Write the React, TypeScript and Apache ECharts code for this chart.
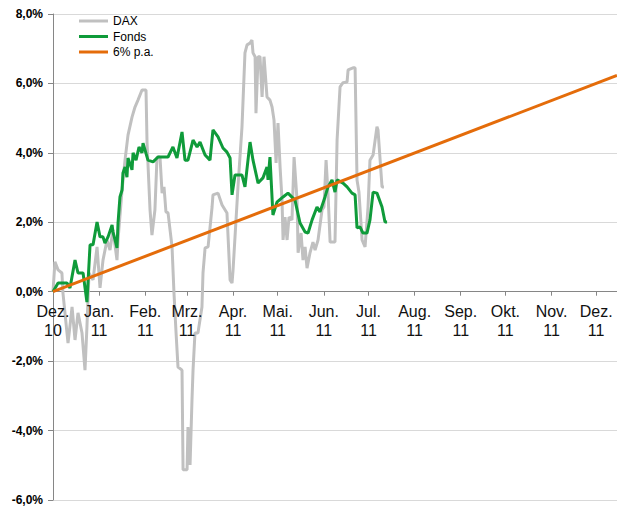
import React, { useEffect, useRef } from "react";
import * as echarts from "echarts";

// x values are days counted from 1 Dec 2010
const monthStarts = [0, 31, 62, 90, 121, 151, 182, 212, 243, 274, 304, 335, 365];
const monthLabels = [
  "Dez.\n10", "Jan.\n11", "Feb.\n11", "Mrz.\n11", "Apr.\n11", "Mai.\n11", "Jun.\n11",
  "Jul.\n11", "Aug.\n11", "Sep.\n11", "Okt.\n11", "Nov.\n11", "Dez.\n11",
];
const seriesNames = ["DAX", "Fonds", "6% p.a."];

const daxDays = [
  0, 1.3, 3.4, 6.0, 6.7, 10.1, 12.8, 14.8, 16.8, 19.5, 21.5, 22.8, 24.2, 26.9, 29.6, 31.6, 33.6,
  36.3, 38.3, 40.3, 43.0, 43.7, 46.4, 48.4, 50.4, 53.1, 55.1, 57.1, 59.8, 62.5, 63.2, 65.2, 66.5,
  68.5, 69.9, 71.9, 73.3, 74.6, 75.9, 77.3, 80.0, 81.3, 82.7, 84.0, 86.7, 87.4, 90.1, 90.7, 92.1,
  93.4, 94.1, 95.4, 97.4, 100.1, 100.8, 102.2, 104.2, 106.9, 107.5, 110.9, 113.6, 116.9, 119.0,
  120.3, 121.0, 124.3, 127.0, 129.0, 130.4, 132.4, 133.7, 134.4, 135.8, 136.4, 137.8, 139.1,
  140.5, 141.8, 143.8, 145.8, 147.2, 148.5, 149.9, 151.2, 152.6, 153.9, 154.6, 155.9, 157.3,
  158.6, 160.6, 162.0, 164.0, 164.7, 166.7, 168.0, 169.4, 170.7, 172.7, 174.7, 176.1, 178.1,
  180.8, 182.1, 183.5, 184.8, 186.2, 189.5, 190.9, 192.9, 194.9, 197.6, 198.3, 201.6, 203.0,
  204.3, 205.6, 207.7, 209.7, 211.7, 213.0, 215.1, 217.7, 218.4, 221.1, 222.4,
];
const daxValues = [
  0, 0.86, 0.63, 0.54, -0.04, -1.48, -0.44, -1.39, -0.61, -1.19, -2.26, -1.02, 0.54, 0.34, 1.29,
  0.11, 0.91, 1.49, 1.2, 1.78, 0.91, 1.49, 2.93, 3.79, 4.51, 5.03, 5.32, 5.52, 5.81, 5.81, 4.28,
  2.36, 1.63, 2.36, 3.88, 3.88, 2.84, 3.02, 2.3, 2.27, 1.29, -0.04, -1.19, -2.17, -2.26, -5.13,
  -5.13, -3.9, -4.99, -3.12, -2.26, -1.19, -1.19, -0.44, 0.54, 1.26, 1.29, 2.44, 2.79, 2.84, 2.5,
  2.27, 0.34, 0.25, 0.63, 3.02, 4.75, 6.88, 7.11, 7.16, 7.25, 6.88, 6.77, 5.14, 6.77, 6.77, 5.61,
  6.77, 5.61, 5.52, 5.32, 4.95, 3.71, 4.86, 3.59, 2.64, 1.49, 2.15, 1.49, 2.15, 2.07, 3.88, 2.64,
  1.12, 1.69, 0.91, 1.29, 0.68, 1.12, 1.43, 1.2, 1.49, 2.36, 2.44, 3.79, 2.84, 1.43, 1.43, 4.37,
  5.9, 6.02, 6.04, 6.39, 6.45, 6.45, 3.22, 2.87, 1.49, 1.29, 2.44, 3.79, 3.94, 4.75, 4.66, 3.02,
  3.02,
];

const fondsDays = [
  0, 3.4, 9.4, 11.4, 14.8, 16.8, 20.2, 22.8, 24.9, 26.9, 29.6, 31.6, 33.6, 34.9, 37.0, 39.7, 40.3,
  41.7, 43.0, 43.7, 45.0, 46.4, 47.0, 48.4, 49.7, 50.4, 53.1, 53.8, 55.8, 57.8, 59.8, 60.5, 63.8,
  67.2, 70.6, 73.9, 77.3, 80.6, 83.3, 86.7, 88.7, 90.7, 94.1, 96.8, 98.8, 102.2, 105.5, 107.5,
  110.9, 114.2, 116.9, 119.0, 120.3, 122.3, 127.0, 129.0, 132.4, 134.4, 137.8, 141.1, 143.8,
  144.5, 145.8, 147.8, 150.5, 154.6, 157.9, 162.6, 166.0, 169.4, 171.4, 174.1, 177.4, 179.4,
  182.8, 184.8, 187.5, 189.5, 190.9, 194.9, 197.6, 200.9, 203.0, 204.3, 206.3, 208.3, 211.0,
  213.0, 215.1, 217.7, 221.1, 223.1, 224.5,
];
const fondsValues = [
  0, 0.25, 0.25, 0.11, 0.91, 0.54, 0.54, -0.3, 1.35, 1.35, 2.01, 1.58, 1.58, 1.4, 1.58, 1.92, 1.72,
  1.49, 1.26, 1.98, 2.73, 2.93, 3.42, 3.59, 3.3, 3.85, 3.51, 4.0, 3.79, 4.17, 4.0, 4.28, 3.79, 3.74,
  3.88, 3.88, 3.88, 4.17, 3.85, 4.6, 3.79, 3.79, 4.37, 4.17, 4.31, 3.94, 3.79, 4.66, 4.46, 4.14,
  4.02, 3.85, 2.79, 3.36, 3.36, 3.02, 4.31, 3.79, 3.13, 3.28, 3.59, 3.22, 3.88, 2.21, 2.58, 2.73,
  2.84, 2.64, 1.98, 1.72, 1.69, 2.07, 2.44, 2.3, 2.73, 3.02, 3.22, 2.87, 3.22, 3.13, 3.02, 2.84,
  2.79, 1.84, 1.87, 1.69, 1.69, 2.07, 2.87, 2.84, 2.44, 2.01, 2.01,
];

const targetDays = [0, 379];
const targetValues = [0, 6.23];

const axisMax = 379;
const yMin = -6;
const yMax = 8;
const FONT = "'Liberation Sans', Arial, sans-serif";

const zip = (xs: number[], ys: number[]) => xs.map((x, i) => [x, ys[i]]);

export default function App() {
  const ref = useRef<HTMLDivElement>(null);
  useEffect(() => {
    if (!ref.current) return;
    const chart = echarts.init(ref.current, null, { renderer: "svg" });
    const top = 14;
    const bottom = 8;
    const plotH = 508 - top - bottom;
    // second grid covers the positive part only, so its bottom edge is the 0 line
    const labelGridBottom = bottom + (plotH * (0 - yMin)) / (yMax - yMin);
    chart.setOption({
      animation: false,
      backgroundColor: "#ffffff",
      textStyle: { fontFamily: FONT },
      grid: [
        { left: 53, right: 0, top, bottom, containLabel: false, outerBoundsMode: "none" },
        { left: 53, right: 0, top, bottom: labelGridBottom, containLabel: false, outerBoundsMode: "none" },
      ],
      legend: {
        data: seriesNames,
        orient: "vertical",
        left: 79,
        top: 14,
        padding: 0,
        icon: "rect",
        itemWidth: 29,
        itemHeight: 3,
        itemGap: 1.5,
        textStyle: { fontSize: 12, color: "#000", fontFamily: FONT, lineHeight: 14 },
      },
      xAxis: [
        {
          type: "value",
          gridIndex: 0,
          min: 0,
          max: axisMax,
          axisLine: { show: true, onZero: true, lineStyle: { color: "#868686", width: 1 } },
          axisTick: {
            show: true,
            customValues: monthStarts,
            length: 4,
            lineStyle: { color: "#868686" },
          },
          axisLabel: { show: false },
          splitLine: { show: false },
        },
        {
          type: "value",
          gridIndex: 1,
          min: 0,
          max: axisMax,
          position: "bottom",
          z: 10,
          axisLine: { show: false, onZero: false },
          axisTick: { show: false },
          axisLabel: {
            customValues: monthStarts,
            formatter: (v: number) => {
              const i = monthStarts.indexOf(v);
              return i >= 0 ? monthLabels[i] : "";
            },
            fontSize: 16,
            lineHeight: 19,
            color: "#111",
            margin: 10,
            fontFamily: FONT,
          },
          splitLine: { show: false },
        },
      ],
      yAxis: [
        {
          type: "value",
          gridIndex: 0,
          min: yMin,
          max: yMax,
          interval: 2,
          axisLine: { show: true, onZero: false, lineStyle: { color: "#868686", width: 1 } },
          axisTick: { show: true, length: 5, lineStyle: { color: "#868686" } },
          axisLabel: {
            formatter: (v: number) => v.toFixed(1).replace(".", ",") + "%",
            fontWeight: "bold",
            fontSize: 12,
            color: "#000",
            margin: 10,
            fontFamily: FONT,
          },
          splitLine: { show: true, lineStyle: { color: "#d9d9d9", width: 1 } },
        },
        {
          type: "value",
          gridIndex: 1,
          min: 0,
          max: yMax,
          show: false,
        },
      ],
      series: [
        {
          name: seriesNames[0],
          type: "line",
          xAxisIndex: 0,
          yAxisIndex: 0,
          data: zip(daxDays, daxValues),
          showSymbol: false,
          symbol: "none",
          color: "#c0c0c0",
          lineStyle: { color: "#c0c0c0", width: 3 },
        },
        {
          name: seriesNames[1],
          type: "line",
          xAxisIndex: 0,
          yAxisIndex: 0,
          data: zip(fondsDays, fondsValues),
          showSymbol: false,
          symbol: "none",
          color: "#0f9b3a",
          lineStyle: { color: "#0f9b3a", width: 3 },
        },
        {
          name: seriesNames[2],
          type: "line",
          xAxisIndex: 0,
          yAxisIndex: 0,
          data: zip(targetDays, targetValues),
          showSymbol: false,
          symbol: "none",
          color: "#e46c0a",
          lineStyle: { color: "#e46c0a", width: 3 },
        },
      ],
    });
    return () => chart.dispose();
  }, []);
  return (
    <div
      ref={ref}
      style={{ position: "fixed", left: 0, top: 0, width: 617, height: 508, background: "#fff" }}
    />
  );
}
